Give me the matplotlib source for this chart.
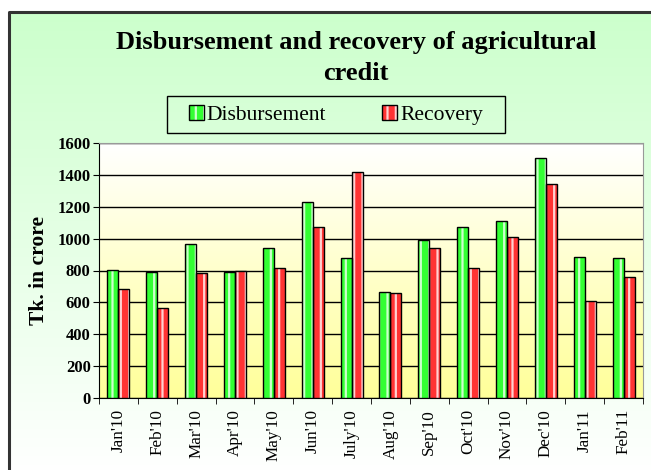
import matplotlib
matplotlib.use("Agg")
import matplotlib.pyplot as plt
import numpy as np
from matplotlib.colors import LinearSegmentedColormap
from matplotlib.patches import Rectangle, Patch

months = ["Jan'10", "Feb'10", "Mar'10", "Apr'10", "May'10", "Jun'10", "July'10",
          "Aug'10", "Sep'10", "Oct'10", "Nov'10", "Dec'10", "Jan'11", "Feb'11"]
disbursement = [803, 788, 967, 788, 939, 1229, 877, 667, 992, 1076, 1111, 1503, 887, 879]
recovery = [683, 564, 786, 799, 816, 1072, 1418, 657, 942, 816, 1013, 1342, 610, 759]
yticks = [0, 200, 400, 600, 800, 1000, 1200, 1400, 1600]

plt.rcParams['font.family'] = ['Liberation Serif', 'DejaVu Serif']
plt.rcParams['hatch.linewidth'] = 1.6

W, H = 651, 470
fig = plt.figure(figsize=(W / 100, H / 100), dpi=100)

# outer frame background with gradient
bg = fig.add_axes([0, 0, 1, 1], zorder=0)
bg.set_xlim(0, W)
bg.set_ylim(H, 0)
bg.axis('off')
cmap_bg = LinearSegmentedColormap.from_list('bg', ['#CCFFCC', '#FFFFFF'])
grad = np.linspace(0, 1, 256).reshape(-1, 1)
bg.imshow(grad, cmap=cmap_bg, extent=[9, W + 5, H + 5, 12], aspect='auto', zorder=0)
bg.plot([9, 9, W + 5], [H + 5, 12, 12], color='#333333', lw=2.2, zorder=1)
# legend frame
bg.add_patch(Rectangle((167, 96), 505 - 167, 133 - 96, fill=False,
                       edgecolor='black', lw=1.0, zorder=2))

# plot area
ax = fig.add_axes([99 / W, 1 - 398 / H, (643 - 99) / W, (398 - 143) / H], zorder=1)
cmap_ax = LinearSegmentedColormap.from_list('ax', ['#FFFFFF', '#FFFF99'])
ax.imshow(grad, cmap=cmap_ax, extent=[-0.5, len(months) - 0.5, 0, 1600],
          aspect='auto', zorder=0)

x = np.arange(len(months))
bw = 0.283
for vals, off, face, stripe in [(disbursement, -bw / 2, '#33FF33', '#CCFFCC'),
                                (recovery, bw / 2, '#FF3333', '#FFD0D0')]:
    ax.bar(x + off, vals, bw, color=face, edgecolor=stripe, linewidth=0,
           hatch='||', zorder=3)
    ax.bar(x + off, vals, bw, fill=False, edgecolor='black', linewidth=1.0, zorder=4)

ax.set_xlim(-0.5, len(months) - 0.5)
ax.set_ylim(0, 1600)
ax.set_yticks(yticks)
ax.set_yticklabels([str(v) for v in yticks], fontsize=12, fontweight='bold')
ax.yaxis.grid(True, color='black', lw=1.0, zorder=1)
ax.set_axisbelow(True)
ax.set_xticks(x)
ax.set_xticklabels(months, rotation=90, fontsize=12.3)
ax.set_xticks(np.arange(len(months) + 1) - 0.5, minor=True)
ax.tick_params(axis='x', which='major', length=0, pad=8)
ax.tick_params(axis='x', which='minor', length=4, color='black')
ax.tick_params(axis='y', length=4, color='black', pad=2)
for s in ['top', 'right']:
    ax.spines[s].set_color('#999999')
for s in ['left', 'bottom']:
    ax.spines[s].set_color('black')
ax.set_ylabel('Tk. in crore', fontsize=15.5, fontweight='bold', labelpad=6)

fig.text(356 / W, 1 - 43 / H, 'Disbursement and recovery of agricultural',
         ha='center', va='center', fontsize=19, fontweight='bold')
fig.text(356 / W, 1 - 74 / H, 'credit',
         ha='center', va='center', fontsize=19, fontweight='bold')

handles = [Patch(facecolor='#33FF33', edgecolor='#CCFFCC', hatch='||', label='Disbursement'),
           Patch(facecolor='#FF3333', edgecolor='#FFD0D0', hatch='||', label='Recovery')]
leg = fig.legend(handles=handles, loc='center', bbox_to_anchor=(336 / W, 1 - 115 / H),
                 ncol=2, fontsize=15.5, frameon=False,
                 handlelength=0.7, handleheight=0.7, handletextpad=0.15,
                 columnspacing=2.6, borderpad=0.45)
for p in leg.get_patches():
    p.set_linewidth(0)
fig.canvas.draw()
for p in leg.get_patches():
    bb = p.get_window_extent()
    fig.patches.append(Rectangle((bb.x0, bb.y0), bb.width, bb.height, fill=False,
                                 edgecolor='black', lw=1.0,
                                 transform=None, zorder=10))

fig.savefig('out.png', dpi=100)
